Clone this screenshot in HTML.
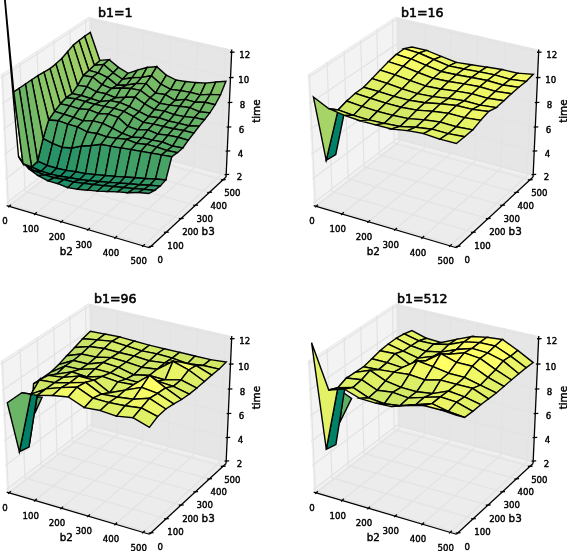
<!DOCTYPE html><html><head><meta charset="utf-8"><title>b1 surfaces</title>
<style>html,body{margin:0;padding:0;background:#fff}svg{display:block}text{font-family:"DejaVu Sans","Liberation Sans",sans-serif;fill:#000;stroke:#000;stroke-width:0.42px}.t{stroke-width:0.55px}.s polygon{stroke:#000;stroke-width:1.4;stroke-linejoin:miter;stroke-miterlimit:6}</style></head><body>
<svg width="567" height="551" viewBox="0 0 567 551">
<rect width="567" height="551" fill="#fff"/>
<g>
<polygon points="6.69,205.56 90.43,140.77 89.04,16.96 0.63,75.18" fill="#f3f3f3"/>
<polygon points="90.43,140.77 226.08,176.99 231.76,49.45 89.04,16.96" fill="#e6e6e6"/>
<polygon points="6.69,205.56 149.41,247.75 226.08,176.99 90.43,140.77" fill="#ececec"/>
<polyline points="90.43,140.77 226.08,176.99" stroke="#f4f4f4" stroke-width="1" fill="none"/>
<polyline points="0.63,75.18 89.04,16.96" stroke="#e9e9e9" stroke-width="1" fill="none"/>
<polyline points="9.16,206.29 92.79,141.4 91.51,17.53" stroke="#e3e3e3" stroke-width="1.25" fill="none"/>
<polyline points="150.91,246.36 8.32,204.3 2.36,74.04" stroke="#e3e3e3" stroke-width="1.25" fill="none"/>
<polyline points="35.04,213.94 117.44,147.98 117.41,23.42" stroke="#e3e3e3" stroke-width="1.25" fill="none"/>
<polyline points="166.2,232.25 24.98,191.41 20,62.42" stroke="#e3e3e3" stroke-width="1.25" fill="none"/>
<polyline points="61.35,221.72 142.49,154.67 143.74,29.42" stroke="#e3e3e3" stroke-width="1.25" fill="none"/>
<polyline points="181.05,218.55 41.17,178.88 37.12,51.15" stroke="#e3e3e3" stroke-width="1.25" fill="none"/>
<polyline points="88.12,229.63 167.94,161.47 170.51,35.51" stroke="#e3e3e3" stroke-width="1.25" fill="none"/>
<polyline points="195.45,205.25 56.91,166.7 53.73,40.21" stroke="#e3e3e3" stroke-width="1.25" fill="none"/>
<polyline points="115.36,237.68 193.79,168.37 197.73,41.71" stroke="#e3e3e3" stroke-width="1.25" fill="none"/>
<polyline points="209.45,192.34 72.22,154.86 69.87,29.58" stroke="#e3e3e3" stroke-width="1.25" fill="none"/>
<polyline points="143.07,245.87 220.07,175.39 225.42,48.01" stroke="#e3e3e3" stroke-width="1.25" fill="none"/>
<polyline points="223.05,179.78 87.11,143.33 85.55,19.26" stroke="#e3e3e3" stroke-width="1.25" fill="none"/>
<polyline points="6.57,203.08 90.4,138.41 226.19,174.56" stroke="#e3e3e3" stroke-width="1.25" fill="none"/>
<polyline points="5.46,179.05 90.15,115.52 227.24,151.03" stroke="#e3e3e3" stroke-width="1.25" fill="none"/>
<polyline points="4.32,154.54 89.88,92.21 228.3,127.03" stroke="#e3e3e3" stroke-width="1.25" fill="none"/>
<polyline points="3.15,129.52 89.62,68.45 229.39,102.56" stroke="#e3e3e3" stroke-width="1.25" fill="none"/>
<polyline points="1.97,103.99 89.34,44.24 230.5,77.6" stroke="#e3e3e3" stroke-width="1.25" fill="none"/>
<polyline points="0.75,77.92 89.06,19.56 231.64,52.13" stroke="#e3e3e3" stroke-width="1.25" fill="none"/>
<g class="s">
<polygon points="-0.67,-61.48 18.52,156.64 23.02,163.58 13.79,91.95" fill="#fbfbe8"/>
<polygon points="94.32,65.27 103.66,64.48 109.15,59.6 99.83,60.4" fill="#7dbe66"/>
<polygon points="84.67,36.23 94.32,65.27 99.83,60.4 90.28,32.45" fill="#a2d166"/>
<polygon points="103.66,64.48 113.09,72.82 118.54,67.34 109.15,59.6" fill="#7bbd66"/>
<polygon points="113.09,72.82 122.54,79.27 127.95,73.27 118.54,67.34" fill="#72b966"/>
<polygon points="88.76,70.31 98.14,72.93 103.66,64.48 94.32,65.27" fill="#7abc66"/>
<polygon points="79.01,40.52 88.76,70.31 94.32,65.27 84.67,36.23" fill="#a1d066"/>
<polygon points="122.54,79.27 132.06,77.7 137.47,70.07 127.95,73.27" fill="#73b966"/>
<polygon points="98.14,72.93 107.59,77.61 113.09,72.82 103.66,64.48" fill="#77bb66"/>
<polygon points="107.59,77.61 117.07,85.24 122.54,79.27 113.09,72.82" fill="#70b766"/>
<polygon points="83.14,75.63 92.54,77.03 98.14,72.93 88.76,70.31" fill="#77bb66"/>
<polygon points="117.07,85.24 126.61,85.08 132.06,77.7 122.54,79.27" fill="#6eb766"/>
<polygon points="92.54,77.03 102.05,84.71 107.59,77.61 98.14,72.93" fill="#74b966"/>
<polygon points="73.29,45.09 83.14,75.63 88.76,70.31 79.01,40.52" fill="#9fcf66"/>
<polygon points="132.06,77.7 141.65,77.42 147.07,67.46 137.47,70.07" fill="#7abd66"/>
<polygon points="102.05,84.71 111.56,88.55 117.07,85.24 107.59,77.61" fill="#6db666"/>
<polygon points="77.55,85.35 86.95,86.68 92.54,77.03 83.14,75.63" fill="#71b866"/>
<polygon points="126.61,85.08 136.22,83.45 141.65,77.42 132.06,77.7" fill="#74b966"/>
<polygon points="86.95,86.68 96.46,91.89 102.05,84.71 92.54,77.03" fill="#6fb766"/>
<polygon points="67.56,51.68 77.55,85.35 83.14,75.63 73.29,45.09" fill="#9bcd66"/>
<polygon points="111.56,88.55 121.12,88.04 126.61,85.08 117.07,85.24" fill="#6db666"/>
<polygon points="141.65,77.42 151.34,75.73 156.74,66.67 147.07,67.46" fill="#81c066"/>
<polygon points="71.89,93.59 81.32,95.51 86.95,86.68 77.55,85.35" fill="#69b466"/>
<polygon points="96.46,91.89 105.98,93.81 111.56,88.55 102.05,84.71" fill="#6bb566"/>
<polygon points="151.34,75.73 160.94,84.2 166.32,75.16 156.74,66.67" fill="#7ebf66"/>
<polygon points="81.32,95.51 90.82,98.54 96.46,91.89 86.95,86.68" fill="#68b366"/>
<polygon points="61.78,58.53 71.89,93.59 77.55,85.35 67.56,51.68" fill="#94ca66"/>
<polygon points="136.22,83.45 145.91,83.58 151.34,75.73 141.65,77.42" fill="#79bc66"/>
<polygon points="160.94,84.2 170.63,89.38 175.99,79.97 166.32,75.16" fill="#77bb66"/>
<polygon points="121.12,88.04 130.75,88.48 136.22,83.45 126.61,85.08" fill="#72b866"/>
<polygon points="105.98,93.81 115.57,97.77 121.12,88.04 111.56,88.55" fill="#6bb566"/>
<polygon points="66.1,97.68 75.55,98.77 81.32,95.51 71.89,93.59" fill="#65b266"/>
<polygon points="90.82,98.54 100.38,101.56 105.98,93.81 96.46,91.89" fill="#66b366"/>
<polygon points="145.91,83.58 155.53,93.07 160.94,84.2 151.34,75.73" fill="#76bb66"/>
<polygon points="170.63,89.38 180.45,90.64 185.8,81.47 175.99,79.97" fill="#75ba66"/>
<polygon points="155.53,93.07 165.31,94.62 170.63,89.38 160.94,84.2" fill="#70b766"/>
<polygon points="75.55,98.77 85.09,101.54 90.82,98.54 81.32,95.51" fill="#65b266"/>
<polygon points="55.92,63.84 66.1,97.68 71.89,93.59 61.78,58.53" fill="#91c866"/>
<polygon points="130.75,88.48 140.45,90.37 145.91,83.58 136.22,83.45" fill="#75ba66"/>
<polygon points="115.57,97.77 125.22,97.27 130.75,88.48 121.12,88.04" fill="#6db666"/>
<polygon points="100.38,101.56 109.97,100.63 115.57,97.77 105.98,93.81" fill="#67b366"/>
<polygon points="60.3,103.85 69.79,105.84 75.55,98.77 66.1,97.68" fill="#63b166"/>
<polygon points="180.45,90.64 190.33,92.4 195.68,82.47 185.8,81.47" fill="#77bb66"/>
<polygon points="140.45,90.37 150.14,97.8 155.53,93.07 145.91,83.58" fill="#71b866"/>
<polygon points="165.31,94.62 175.06,100.44 180.45,90.64 170.63,89.38" fill="#6eb766"/>
<polygon points="85.09,101.54 94.68,104.29 100.38,101.56 90.82,98.54" fill="#65b266"/>
<polygon points="150.14,97.8 159.89,103.33 165.31,94.62 155.53,93.07" fill="#6bb566"/>
<polygon points="125.22,97.27 134.95,97.14 140.45,90.37 130.75,88.48" fill="#71b866"/>
<polygon points="109.97,100.63 119.65,102.47 125.22,97.27 115.57,97.77" fill="#69b466"/>
<polygon points="69.79,105.84 79.35,108.85 85.09,101.54 75.55,98.77" fill="#64b166"/>
<polygon points="49.98,68.6 60.3,103.85 66.1,97.68 55.92,63.84" fill="#8fc766"/>
<polygon points="175.06,100.44 185.03,99.41 190.33,92.4 180.45,90.64" fill="#6fb766"/>
<polygon points="190.33,92.4 200.25,94.88 205.65,83.11 195.68,82.47" fill="#79bc66"/>
<polygon points="54.48,111.31 64.01,114.27 69.79,105.84 60.3,103.85" fill="#5eaf66"/>
<polygon points="94.68,104.29 104.32,106.33 109.97,100.63 100.38,101.56" fill="#66b266"/>
<polygon points="159.89,103.33 169.74,105.17 175.06,100.44 165.31,94.62" fill="#69b466"/>
<polygon points="134.95,97.14 144.68,103.84 150.14,97.8 140.45,90.37" fill="#6eb766"/>
<polygon points="79.35,108.85 88.94,109.59 94.68,104.29 85.09,101.54" fill="#64b266"/>
<polygon points="144.68,103.84 154.46,109.54 159.89,103.33 150.14,97.8" fill="#67b366"/>
<polygon points="119.65,102.47 129.39,106.51 134.95,97.14 125.22,97.27" fill="#6bb566"/>
<polygon points="64.01,114.27 73.59,117.26 79.35,108.85 69.79,105.84" fill="#5eae66"/>
<polygon points="185.03,99.41 194.97,102.07 200.25,94.88 190.33,92.4" fill="#71b866"/>
<polygon points="200.25,94.88 210.34,94.39 215.76,82 205.65,83.11" fill="#7cbe66"/>
<polygon points="37.63,161.23 47.15,165.5 52.64,143.45 43.07,138.49" fill="#2a9466"/>
<polygon points="169.74,105.17 179.68,106.25 185.03,99.41 175.06,100.44" fill="#6ab466"/>
<polygon points="43.95,72.09 54.48,111.31 60.3,103.85 49.98,68.6" fill="#8dc666"/>
<polygon points="104.32,106.33 114.03,108.37 119.65,102.47 109.97,100.63" fill="#68b366"/>
<polygon points="48.65,119.98 58.13,120.71 64.01,114.27 54.48,111.31" fill="#58ac66"/>
<polygon points="129.39,106.51 139.16,111.63 144.68,103.84 134.95,97.14" fill="#69b466"/>
<polygon points="154.46,109.54 164.35,111.18 169.74,105.17 159.89,103.33" fill="#65b266"/>
<polygon points="31.62,167.01 41.17,171.32 47.15,165.5 37.63,161.23" fill="#198c66"/>
<polygon points="88.94,109.59 98.63,113.53 104.32,106.33 94.68,104.29" fill="#64b266"/>
<polygon points="43.07,138.49 52.64,143.45 58.13,120.71 48.65,119.98" fill="#47a366"/>
<polygon points="73.59,117.26 83.23,120.91 88.94,109.59 79.35,108.85" fill="#5eae66"/>
<polygon points="47.15,165.5 56.68,168.23 62.23,147.19 52.64,143.45" fill="#289366"/>
<polygon points="194.97,102.07 205.05,102.3 210.34,94.39 200.25,94.88" fill="#73b966"/>
<polygon points="139.16,111.63 148.97,116.54 154.46,109.54 144.68,103.84" fill="#63b166"/>
<polygon points="114.03,108.37 123.8,111.34 129.39,106.51 119.65,102.47" fill="#68b366"/>
<polygon points="58.13,120.71 67.75,124.2 73.59,117.26 64.01,114.27" fill="#58ac66"/>
<polygon points="179.68,106.25 189.69,107.64 194.97,102.07 185.03,99.41" fill="#6cb666"/>
<polygon points="210.34,94.39 220.47,94.87 225.95,81.26 215.76,82" fill="#81c066"/>
<polygon points="41.17,171.32 50.73,174.09 56.68,168.23 47.15,165.5" fill="#188b66"/>
<polygon points="52.64,143.45 62.23,147.19 67.75,124.2 58.13,120.71" fill="#46a366"/>
<polygon points="164.35,111.18 174.26,114.63 179.68,106.25 169.74,105.17" fill="#66b366"/>
<polygon points="98.63,113.53 108.35,114.14 114.03,108.37 104.32,106.33" fill="#65b266"/>
<polygon points="37.84,75.61 48.65,119.98 54.48,111.31 43.95,72.09" fill="#8ac566"/>
<polygon points="123.8,111.34 133.61,116.59 139.16,111.63 129.39,106.51" fill="#64b266"/>
<polygon points="83.23,120.91 92.89,120.85 98.63,113.53 88.94,109.59" fill="#5eaf66"/>
<polygon points="148.97,116.54 158.89,117.77 164.35,111.18 154.46,109.54" fill="#62b066"/>
<polygon points="56.68,168.23 66.25,170.41 71.81,148.02 62.23,147.19" fill="#289366"/>
<polygon points="67.75,124.2 77.4,126.94 83.23,120.91 73.59,117.26" fill="#57ab66"/>
<polygon points="205.05,102.3 215.13,104.78 220.47,94.87 210.34,94.39" fill="#76ba66"/>
<polygon points="189.69,107.64 199.67,111.84 205.05,102.3 194.97,102.07" fill="#6db666"/>
<polygon points="50.73,174.09 60.33,176.29 66.25,170.41 56.68,168.23" fill="#188b66"/>
<polygon points="62.23,147.19 71.81,148.02 77.4,126.94 67.75,124.2" fill="#46a366"/>
<polygon points="133.61,116.59 143.45,122.38 148.97,116.54 139.16,111.63" fill="#60af66"/>
<polygon points="174.26,114.63 184.27,116.64 189.69,107.64 179.68,106.25" fill="#67b366"/>
<polygon points="108.35,114.14 118.15,117.46 123.8,111.34 114.03,108.37" fill="#65b266"/>
<polygon points="31.69,79.77 43.07,138.49 48.65,119.98 37.84,75.61" fill="#82c166"/>
<polygon points="23.02,163.58 34.93,171.22 41.17,171.32 31.62,167.01" fill="#1e8f66"/>
<polygon points="158.89,117.77 168.84,121.02 174.26,114.63 164.35,111.18" fill="#62b066"/>
<polygon points="92.89,120.85 102.64,123.35 108.35,114.14 98.63,113.53" fill="#60af66"/>
<polygon points="77.4,126.94 87.15,131.96 92.89,120.85 83.23,120.91" fill="#56ab66"/>
<polygon points="66.25,170.41 75.87,171.81 81.42,145.99 71.81,148.02" fill="#2c9566"/>
<polygon points="118.15,117.46 127.98,126.37 133.61,116.59 123.8,111.34" fill="#61b066"/>
<polygon points="34.93,171.22 44.56,174.85 50.73,174.09 41.17,171.32" fill="#1a8d66"/>
<polygon points="143.45,122.38 153.39,124.14 158.89,117.77 148.97,116.54" fill="#5eaf66"/>
<polygon points="199.67,111.84 209.82,112.87 215.13,104.78 205.05,102.3" fill="#6eb666"/>
<polygon points="25.47,84.01 37.63,161.23 43.07,138.49 31.69,79.77" fill="#74ba66"/>
<polygon points="60.33,176.29 69.97,177.73 75.87,171.81 66.25,170.41" fill="#1a8c66"/>
<polygon points="71.81,148.02 81.42,145.99 87.15,131.96 77.4,126.94" fill="#48a366"/>
<polygon points="184.27,116.64 194.37,117.6 199.67,111.84 189.69,107.64" fill="#68b366"/>
<polygon points="127.98,126.37 137.87,129.91 143.45,122.38 133.61,116.59" fill="#5bad66"/>
<polygon points="168.84,121.02 178.87,123.31 184.27,116.64 174.26,114.63" fill="#61b066"/>
<polygon points="102.64,123.35 112.46,128.07 118.15,117.46 108.35,114.14" fill="#5faf66"/>
<polygon points="87.15,131.96 96.9,133.48 102.64,123.35 92.89,120.85" fill="#57ab66"/>
<polygon points="44.56,174.85 54.23,177.74 60.33,176.29 50.73,174.09" fill="#1a8d66"/>
<polygon points="153.39,124.14 163.39,126.51 168.84,121.02 158.89,117.77" fill="#5faf66"/>
<polygon points="75.87,171.81 85.57,173.62 91.14,145.48 81.42,145.99" fill="#309766"/>
<polygon points="19.18,88.28 31.62,167.01 37.63,161.23 25.47,84.01" fill="#6cb566"/>
<polygon points="112.46,128.07 122.32,133.34 127.98,126.37 118.15,117.46" fill="#5aad66"/>
<polygon points="194.37,117.6 204.51,119.77 209.82,112.87 199.67,111.84" fill="#68b466"/>
<polygon points="69.97,177.73 79.7,179.56 85.57,173.62 75.87,171.81" fill="#1b8d66"/>
<polygon points="81.42,145.99 91.14,145.48 96.9,133.48 87.15,131.96" fill="#4aa566"/>
<polygon points="137.87,129.91 147.85,129.89 153.39,124.14 143.45,122.38" fill="#5bad66"/>
<polygon points="96.9,133.48 106.73,136.93 112.46,128.07 102.64,123.35" fill="#56ab66"/>
<polygon points="178.87,123.31 188.96,125.75 194.37,117.6 184.27,116.64" fill="#63b166"/>
<polygon points="122.32,133.34 132.23,137.22 137.87,129.91 127.98,126.37" fill="#55aa66"/>
<polygon points="54.23,177.74 63.93,179.61 69.97,177.73 60.33,176.29" fill="#1b8d66"/>
<polygon points="163.39,126.51 173.45,128.78 178.87,123.31 168.84,121.02" fill="#5faf66"/>
<polygon points="18.52,156.64 28.5,168.61 34.93,171.22 23.02,163.58" fill="#2c9666"/>
<polygon points="28.5,168.61 38.31,175.65 44.56,174.85 34.93,171.22" fill="#239166"/>
<polygon points="106.73,136.93 116.61,138.36 122.32,133.34 112.46,128.07" fill="#54aa66"/>
<polygon points="85.57,173.62 95.33,174.66 100.95,144.25 91.14,145.48" fill="#349966"/>
<polygon points="79.7,179.56 89.48,180.63 95.33,174.66 85.57,173.62" fill="#1e8e66"/>
<polygon points="147.85,129.89 157.85,134.09 163.39,126.51 153.39,124.14" fill="#5cad66"/>
<polygon points="91.14,145.48 100.95,144.25 106.73,136.93 96.9,133.48" fill="#4ea666"/>
<polygon points="188.96,125.75 199.18,126.1 204.51,119.77 194.37,117.6" fill="#64b266"/>
<polygon points="132.23,137.22 142.23,137.59 147.85,129.89 137.87,129.91" fill="#56ab66"/>
<polygon points="38.31,175.65 48.09,180.86 54.23,177.74 44.56,174.85" fill="#208f66"/>
<polygon points="173.45,128.78 183.59,130.46 188.96,125.75 178.87,123.31" fill="#5faf66"/>
<polygon points="63.93,179.61 73.7,182.01 79.7,179.56 69.97,177.73" fill="#1d8e66"/>
<polygon points="13.79,91.95 23.02,163.58 31.62,167.01 19.18,88.28" fill="#70b766"/>
<polygon points="116.61,138.36 126.57,139.39 132.23,137.22 122.32,133.34" fill="#54a966"/>
<polygon points="157.85,134.09 167.95,135.31 173.45,128.78 163.39,126.51" fill="#5cad66"/>
<polygon points="95.33,174.66 105.16,175.52 110.85,146.09 100.95,144.25" fill="#379b66"/>
<polygon points="89.48,180.63 99.34,181.51 105.16,175.52 95.33,174.66" fill="#219066"/>
<polygon points="100.95,144.25 110.85,146.09 116.61,138.36 106.73,136.93" fill="#50a766"/>
<polygon points="142.23,137.59 152.28,140.18 157.85,134.09 147.85,129.89" fill="#58ab66"/>
<polygon points="48.09,180.86 57.85,183.62 63.93,179.61 54.23,177.74" fill="#1f8f66"/>
<polygon points="183.59,130.46 193.78,133.13 199.18,126.1 188.96,125.75" fill="#61b066"/>
<polygon points="73.7,182.01 83.53,183.39 89.48,180.63 79.7,179.56" fill="#1e8f66"/>
<polygon points="126.57,139.39 136.59,143.23 142.23,137.59 132.23,137.22" fill="#54aa66"/>
<polygon points="167.95,135.31 178.12,137.27 183.59,130.46 173.45,128.78" fill="#5dae66"/>
<polygon points="105.16,175.52 115.07,176.37 120.83,147.91 110.85,146.09" fill="#3a9c66"/>
<polygon points="99.34,181.51 109.27,182.39 115.07,176.37 105.16,175.52" fill="#249166"/>
<polygon points="110.85,146.09 120.83,147.91 126.57,139.39 116.61,138.36" fill="#52a866"/>
<polygon points="152.28,140.18 162.41,141.99 167.95,135.31 157.85,134.09" fill="#58ac66"/>
<polygon points="57.85,183.62 67.7,187.65 73.7,182.01 63.93,179.61" fill="#1f8f66"/>
<polygon points="83.53,183.39 93.43,184.52 99.34,181.51 89.48,180.63" fill="#219066"/>
<polygon points="136.59,143.23 146.68,144.44 152.28,140.18 142.23,137.59" fill="#55aa66"/>
<polygon points="178.12,137.27 188.33,140.21 193.78,133.13 183.59,130.46" fill="#5eae66"/>
<polygon points="120.83,147.91 130.88,149.65 136.59,143.23 126.57,139.39" fill="#52a966"/>
<polygon points="162.41,141.99 172.55,146.09 178.12,137.27 167.95,135.31" fill="#59ac66"/>
<polygon points="115.07,176.37 125.06,177.03 130.88,149.65 120.83,147.91" fill="#3c9e66"/>
<polygon points="67.7,187.65 77.56,189.21 83.53,183.39 73.7,182.01" fill="#208f66"/>
<polygon points="109.27,182.39 119.29,183.08 125.06,177.03 115.07,176.37" fill="#279366"/>
<polygon points="146.68,144.44 156.83,147.03 162.41,141.99 152.28,140.18" fill="#56ab66"/>
<polygon points="93.43,184.52 103.41,185.66 109.27,182.39 99.34,181.51" fill="#249266"/>
<polygon points="172.55,146.09 182.81,147.99 188.33,140.21 178.12,137.27" fill="#59ac66"/>
<polygon points="130.88,149.65 141,151.37 146.68,144.44 136.59,143.23" fill="#53a966"/>
<polygon points="125.06,177.03 135.12,177.7 141,151.37 130.88,149.65" fill="#3f9f66"/>
<polygon points="77.56,189.21 87.48,190.17 93.43,184.52 83.53,183.39" fill="#229166"/>
<polygon points="119.29,183.08 129.38,183.77 135.12,177.7 125.06,177.03" fill="#2b9566"/>
<polygon points="156.83,147.03 167.03,150.55 172.55,146.09 162.41,141.99" fill="#56aa66"/>
<polygon points="103.41,185.66 113.46,186.55 119.29,183.08 109.27,182.39" fill="#289366"/>
<polygon points="141,151.37 151.19,153.13 156.83,147.03 146.68,144.44" fill="#55aa66"/>
<polygon points="135.12,177.7 145.27,178.57 151.19,153.13 141,151.37" fill="#41a066"/>
<polygon points="87.48,190.17 97.48,191.14 103.41,185.66 93.43,184.52" fill="#259266"/>
<polygon points="167.03,150.55 177.33,152.67 182.81,147.99 172.55,146.09" fill="#55aa66"/>
<polygon points="129.38,183.77 139.56,184.68 145.27,178.57 135.12,177.7" fill="#2e9766"/>
<polygon points="113.46,186.55 123.59,187.44 129.38,183.77 119.29,183.08" fill="#2b9566"/>
<polygon points="151.19,153.13 161.45,154.93 167.03,150.55 156.83,147.03" fill="#55aa66"/>
<polygon points="145.27,178.57 155.51,179.05 161.45,154.93 151.19,153.13" fill="#44a166"/>
<polygon points="97.48,191.14 107.56,191.49 113.46,186.55 103.41,185.66" fill="#299466"/>
<polygon points="139.56,184.68 149.82,185.18 155.51,179.05 145.27,178.57" fill="#329966"/>
<polygon points="161.45,154.93 171.79,156.77 177.33,152.67 167.03,150.55" fill="#56aa66"/>
<polygon points="123.59,187.44 133.8,188.61 139.56,184.68 129.38,183.77" fill="#2e9766"/>
<polygon points="155.51,179.05 165.82,179.93 171.79,156.77 161.45,154.93" fill="#47a366"/>
<polygon points="107.56,191.49 117.73,191.84 123.59,187.44 113.46,186.55" fill="#2c9666"/>
<polygon points="149.82,185.18 160.16,186.1 165.82,179.93 155.51,179.05" fill="#369a66"/>
<polygon points="133.8,188.61 144.1,189.25 149.82,185.18 139.56,184.68" fill="#329866"/>
<polygon points="117.73,191.84 127.98,192.82 133.8,188.61 123.59,187.44" fill="#309766"/>
<polygon points="144.1,189.25 154.48,190.43 160.16,186.1 149.82,185.18" fill="#359a66"/>
<polygon points="127.98,192.82 138.32,192.54 144.1,189.25 133.8,188.61" fill="#349966"/>
<polygon points="138.32,192.54 148.74,193.54 154.48,190.43 144.1,189.25" fill="#379b66"/>
</g>
<polyline points="6.69,205.56 149.41,247.75" stroke="#000" stroke-width="1.3" fill="none"/>
<polyline points="149.41,247.75 226.08,176.99" stroke="#000" stroke-width="1.3" fill="none"/>
<polyline points="226.08,176.99 231.76,49.45" stroke="#000" stroke-width="1.3" fill="none"/>
<polyline points="8.16,207.29 10.96,204.69" stroke="#000" stroke-width="1.3" fill="none"/>
<polyline points="148.71,246.56 153.51,246.16" stroke="#000" stroke-width="1.3" fill="none"/>
<polyline points="34.04,214.94 36.84,212.34" stroke="#000" stroke-width="1.3" fill="none"/>
<polyline points="164,232.45 168.8,232.05" stroke="#000" stroke-width="1.3" fill="none"/>
<polyline points="60.35,222.72 63.15,220.12" stroke="#000" stroke-width="1.3" fill="none"/>
<polyline points="178.85,218.75 183.65,218.35" stroke="#000" stroke-width="1.3" fill="none"/>
<polyline points="87.12,230.63 89.92,228.03" stroke="#000" stroke-width="1.3" fill="none"/>
<polyline points="193.25,205.45 198.05,205.05" stroke="#000" stroke-width="1.3" fill="none"/>
<polyline points="114.36,238.68 117.16,236.08" stroke="#000" stroke-width="1.3" fill="none"/>
<polyline points="207.25,192.54 212.05,192.14" stroke="#000" stroke-width="1.3" fill="none"/>
<polyline points="142.07,246.87 144.87,244.27" stroke="#000" stroke-width="1.3" fill="none"/>
<polyline points="220.85,179.98 225.65,179.58" stroke="#000" stroke-width="1.3" fill="none"/>
<polyline points="224.59,174.66 229.19,174.46" stroke="#000" stroke-width="1.3" fill="none"/>
<polyline points="225.64,151.13 230.24,150.93" stroke="#000" stroke-width="1.3" fill="none"/>
<polyline points="226.7,127.13 231.3,126.93" stroke="#000" stroke-width="1.3" fill="none"/>
<polyline points="227.79,102.66 232.39,102.46" stroke="#000" stroke-width="1.3" fill="none"/>
<polyline points="228.9,77.7 233.5,77.5" stroke="#000" stroke-width="1.3" fill="none"/>
<polyline points="230.04,52.23 234.64,52.03" stroke="#000" stroke-width="1.3" fill="none"/>
<text x="4.86" y="224.48" font-size="8.6" text-anchor="middle">0</text>
<text x="160.21" y="263" font-size="8.6" text-anchor="middle">0</text>
<text x="30.74" y="232.13" font-size="8.6" text-anchor="middle">100</text>
<text x="175.5" y="248.89" font-size="8.6" text-anchor="middle">100</text>
<text x="57.05" y="239.91" font-size="8.6" text-anchor="middle">200</text>
<text x="190.35" y="235.19" font-size="8.6" text-anchor="middle">200</text>
<text x="83.82" y="247.82" font-size="8.6" text-anchor="middle">300</text>
<text x="204.75" y="221.89" font-size="8.6" text-anchor="middle">300</text>
<text x="111.06" y="255.87" font-size="8.6" text-anchor="middle">400</text>
<text x="218.75" y="208.98" font-size="8.6" text-anchor="middle">400</text>
<text x="138.77" y="264.06" font-size="8.6" text-anchor="middle">500</text>
<text x="232.35" y="196.42" font-size="8.6" text-anchor="middle">500</text>
<text x="239.39" y="180.1" font-size="8.6" text-anchor="middle">2</text>
<text x="240.44" y="156.57" font-size="8.6" text-anchor="middle">4</text>
<text x="241.5" y="132.57" font-size="8.6" text-anchor="middle">6</text>
<text x="242.59" y="108.1" font-size="8.6" text-anchor="middle">8</text>
<text x="243.7" y="83.14" font-size="8.6" text-anchor="middle">10</text>
<text x="244.84" y="57.67" font-size="8.6" text-anchor="middle">12</text>
<text x="66.3" y="254.85" font-size="10.4" text-anchor="middle">b2</text>
<text x="208.2" y="235.35" font-size="10.4" text-anchor="middle">b3</text>
<text x="256.3" y="115.05" font-size="10.4" text-anchor="middle" transform="rotate(-90 256.3 111.1)">time</text>
<text x="115.2" y="16.6" font-size="12.6" text-anchor="middle" class="t">b1=1</text>
</g>
<g>
<polygon points="313.69,205.56 397.43,140.77 396.04,16.96 307.63,75.18" fill="#f3f3f3"/>
<polygon points="397.43,140.77 533.08,176.99 538.76,49.45 396.04,16.96" fill="#e6e6e6"/>
<polygon points="313.69,205.56 456.41,247.75 533.08,176.99 397.43,140.77" fill="#ececec"/>
<polyline points="397.43,140.77 533.08,176.99" stroke="#f4f4f4" stroke-width="1" fill="none"/>
<polyline points="307.63,75.18 396.04,16.96" stroke="#e9e9e9" stroke-width="1" fill="none"/>
<polyline points="316.16,206.29 399.79,141.4 398.51,17.53" stroke="#e3e3e3" stroke-width="1.25" fill="none"/>
<polyline points="457.91,246.36 315.32,204.3 309.36,74.04" stroke="#e3e3e3" stroke-width="1.25" fill="none"/>
<polyline points="342.04,213.94 424.44,147.98 424.41,23.42" stroke="#e3e3e3" stroke-width="1.25" fill="none"/>
<polyline points="473.2,232.25 331.98,191.41 327,62.42" stroke="#e3e3e3" stroke-width="1.25" fill="none"/>
<polyline points="368.35,221.72 449.49,154.67 450.74,29.42" stroke="#e3e3e3" stroke-width="1.25" fill="none"/>
<polyline points="488.05,218.55 348.17,178.88 344.12,51.15" stroke="#e3e3e3" stroke-width="1.25" fill="none"/>
<polyline points="395.12,229.63 474.94,161.47 477.51,35.51" stroke="#e3e3e3" stroke-width="1.25" fill="none"/>
<polyline points="502.45,205.25 363.91,166.7 360.73,40.21" stroke="#e3e3e3" stroke-width="1.25" fill="none"/>
<polyline points="422.36,237.68 500.79,168.37 504.73,41.71" stroke="#e3e3e3" stroke-width="1.25" fill="none"/>
<polyline points="516.45,192.34 379.22,154.86 376.87,29.58" stroke="#e3e3e3" stroke-width="1.25" fill="none"/>
<polyline points="450.07,245.87 527.07,175.39 532.42,48.01" stroke="#e3e3e3" stroke-width="1.25" fill="none"/>
<polyline points="530.05,179.78 394.11,143.33 392.55,19.26" stroke="#e3e3e3" stroke-width="1.25" fill="none"/>
<polyline points="313.57,203.08 397.4,138.41 533.19,174.56" stroke="#e3e3e3" stroke-width="1.25" fill="none"/>
<polyline points="312.46,179.05 397.15,115.52 534.24,151.03" stroke="#e3e3e3" stroke-width="1.25" fill="none"/>
<polyline points="311.32,154.54 396.88,92.21 535.3,127.03" stroke="#e3e3e3" stroke-width="1.25" fill="none"/>
<polyline points="310.15,129.52 396.62,68.45 536.39,102.56" stroke="#e3e3e3" stroke-width="1.25" fill="none"/>
<polyline points="308.97,103.99 396.34,44.24 537.5,77.6" stroke="#e3e3e3" stroke-width="1.25" fill="none"/>
<polyline points="307.75,77.92 396.06,19.56 538.64,52.13" stroke="#e3e3e3" stroke-width="1.25" fill="none"/>
<g class="s">
<polygon points="404.13,48.66 418.89,53 426.59,50.43 411.93,46.97" fill="#fafc66"/>
<polygon points="418.89,53 433.77,59.49 441.38,56.39 426.59,50.43" fill="#f5fa66"/>
<polygon points="433.77,59.49 448.76,65.91 456.27,62.41 441.38,56.39" fill="#ebf566"/>
<polygon points="396.24,54.38 411.07,58.96 418.89,53 404.13,48.66" fill="#ffff66"/>
<polygon points="411.07,58.96 426.03,65.34 433.77,59.49 418.89,53" fill="#f9fc66"/>
<polygon points="448.76,65.91 463.9,69 471.35,64.74 456.27,62.41" fill="#e8f466"/>
<polygon points="388.26,61.68 403.16,66.37 411.07,58.96 396.24,54.38" fill="#fbfd66"/>
<polygon points="426.03,65.34 441.1,71.51 448.76,65.91 433.77,59.49" fill="#eff766"/>
<polygon points="463.9,69 479.21,71.87 486.58,67.1 471.35,64.74" fill="#ecf566"/>
<polygon points="403.16,66.37 418.19,72.49 426.03,65.34 411.07,58.96" fill="#f5fa66"/>
<polygon points="441.1,71.51 456.33,74.71 463.9,69 448.76,65.91" fill="#ebf566"/>
<polygon points="380.19,70.09 395.14,74.83 403.16,66.37 388.26,61.68" fill="#f4f966"/>
<polygon points="479.21,71.87 494.66,74.9 501.97,69.48 486.58,67.1" fill="#eff766"/>
<polygon points="418.19,72.49 433.33,78.28 441.1,71.51 426.03,65.34" fill="#edf666"/>
<polygon points="456.33,74.71 471.71,77.44 479.21,71.87 463.9,69" fill="#eef666"/>
<polygon points="395.14,74.83 410.24,80.63 418.19,72.49 403.16,66.37" fill="#eef766"/>
<polygon points="433.33,78.28 448.62,81.46 456.33,74.71 441.1,71.51" fill="#eaf466"/>
<polygon points="494.66,74.9 510.23,79.34 517.48,73.15 501.97,69.48" fill="#f0f766"/>
<polygon points="372.01,78.6 387.03,83.37 395.14,74.83 380.19,70.09" fill="#eaf566"/>
<polygon points="410.24,80.63 425.45,85.96 433.33,78.28 418.19,72.49" fill="#e7f366"/>
<polygon points="471.71,77.44 487.25,80.46 494.66,74.9 479.21,71.87" fill="#f0f866"/>
<polygon points="387.03,83.37 402.18,88.81 410.24,80.63 395.14,74.83" fill="#e5f266"/>
<polygon points="448.62,81.46 464.08,83.91 471.71,77.44 456.33,74.71" fill="#ecf666"/>
<polygon points="510.23,79.34 526.04,81.42 533.24,74.32 517.48,73.15" fill="#f3f966"/>
<polygon points="425.45,85.96 440.81,89.06 448.62,81.46 433.33,78.28" fill="#e5f266"/>
<polygon points="363.73,87.23 378.8,91.63 387.03,83.37 372.01,78.6" fill="#e1f066"/>
<polygon points="487.25,80.46 502.9,85.03 510.23,79.34 494.66,74.9" fill="#f0f866"/>
<polygon points="402.18,88.81 417.46,93.66 425.45,85.96 410.24,80.63" fill="#e0f066"/>
<polygon points="464.08,83.91 479.7,86.77 487.25,80.46 471.71,77.44" fill="#f0f766"/>
<polygon points="326.21,160.33 338.1,109.95 346.72,101 335.76,154.48" fill="#008066"/>
<polygon points="378.8,91.63 394.01,96.33 402.18,88.81 387.03,83.37" fill="#deee66"/>
<polygon points="440.81,89.06 456.33,91.18 464.08,83.91 448.62,81.46" fill="#e9f466"/>
<polygon points="502.9,85.03 518.77,87.34 526.04,81.42 510.23,79.34" fill="#f2f866"/>
<polygon points="417.46,93.66 432.88,96.64 440.81,89.06 425.45,85.96" fill="#dfef66"/>
<polygon points="355.27,93.3 370.42,98.28 378.8,91.63 363.73,87.23" fill="#dcee66"/>
<polygon points="479.7,86.77 495.43,91.33 502.9,85.03 487.25,80.46" fill="#f0f766"/>
<polygon points="394.01,96.33 409.35,100.31 417.46,93.66 402.18,88.81" fill="#dbed66"/>
<polygon points="456.33,91.18 472.03,93.82 479.7,86.77 464.08,83.91" fill="#edf666"/>
<polygon points="370.42,98.28 385.71,103.17 394.01,96.33 378.8,91.63" fill="#d9ec66"/>
<polygon points="432.88,96.64 448.48,98.38 456.33,91.18 440.81,89.06" fill="#e4f166"/>
<polygon points="495.43,91.33 511.39,93.74 518.77,87.34 502.9,85.03" fill="#f1f866"/>
<polygon points="409.35,100.31 424.84,102.8 432.88,96.64 417.46,93.66" fill="#dced66"/>
<polygon points="346.72,101 361.95,106.43 370.42,98.28 355.27,93.3" fill="#d9ec66"/>
<polygon points="472.03,93.82 487.84,98.3 495.43,91.33 479.7,86.77" fill="#eef666"/>
<polygon points="385.71,103.17 401.12,107.21 409.35,100.31 394.01,96.33" fill="#d8eb66"/>
<polygon points="448.48,98.38 464.25,100.78 472.03,93.82 456.33,91.18" fill="#e9f466"/>
<polygon points="361.95,106.43 377.31,111.39 385.71,103.17 370.42,98.28" fill="#d5ea66"/>
<polygon points="424.84,102.8 440.52,103.77 448.48,98.38 432.88,96.64" fill="#e2f066"/>
<polygon points="313.4,96.98 328.96,108.73 338.1,109.95 326.21,160.33" fill="#a6d466"/>
<polygon points="487.84,98.3 503.88,100.76 511.39,93.74 495.43,91.33" fill="#eff766"/>
<polygon points="338.1,109.95 353.39,115.36 361.95,106.43 346.72,101" fill="#d1e866"/>
<polygon points="401.12,107.21 416.69,110.14 424.84,102.8 409.35,100.31" fill="#daec66"/>
<polygon points="464.25,100.78 480.15,105.15 487.84,98.3 472.03,93.82" fill="#ebf566"/>
<polygon points="377.31,111.39 392.79,115.37 401.12,107.21 385.71,103.17" fill="#d3e966"/>
<polygon points="353.39,115.36 368.8,119.91 377.31,111.39 361.95,106.43" fill="#cde666"/>
<polygon points="440.52,103.77 456.38,105.52 464.25,100.78 448.48,98.38" fill="#e9f466"/>
<polygon points="416.69,110.14 432.43,111.29 440.52,103.77 424.84,102.8" fill="#e1f066"/>
<polygon points="480.15,105.15 496.26,107.61 503.88,100.76 487.84,98.3" fill="#ecf666"/>
<polygon points="392.79,115.37 408.42,118.62 416.69,110.14 401.12,107.21" fill="#d5ea66"/>
<polygon points="328.96,108.73 344.42,115.35 353.39,115.36 338.1,109.95" fill="#d8eb66"/>
<polygon points="368.8,119.91 384.33,123.36 392.79,115.37 377.31,111.39" fill="#cce666"/>
<polygon points="456.38,105.52 472.39,109.38 480.15,105.15 464.25,100.78" fill="#ecf666"/>
<polygon points="432.43,111.29 448.35,113.36 456.38,105.52 440.52,103.77" fill="#e9f466"/>
<polygon points="344.42,115.35 359.96,120.74 368.8,119.91 353.39,115.36" fill="#d3e966"/>
<polygon points="408.42,118.62 424.21,119.83 432.43,111.29 416.69,110.14" fill="#dbed66"/>
<polygon points="384.33,123.36 400.03,126.44 408.42,118.62 392.79,115.37" fill="#cfe766"/>
<polygon points="472.39,109.38 488.6,111.45 496.26,107.61 480.15,105.15" fill="#eff766"/>
<polygon points="448.35,113.36 464.43,117.68 472.39,109.38 456.38,105.52" fill="#ecf666"/>
<polygon points="359.96,120.74 375.62,124.87 384.33,123.36 368.8,119.91" fill="#d2e866"/>
<polygon points="424.21,119.83 440.2,122.1 448.35,113.36 432.43,111.29" fill="#e3f166"/>
<polygon points="400.03,126.44 415.88,127.22 424.21,119.83 408.42,118.62" fill="#d5ea66"/>
<polygon points="464.43,117.68 480.7,120.33 488.6,111.45 472.39,109.38" fill="#eff766"/>
<polygon points="375.62,124.87 391.44,129.04 400.03,126.44 384.33,123.36" fill="#d3e966"/>
<polygon points="440.2,122.1 456.35,126.75 464.43,117.68 448.35,113.36" fill="#e5f266"/>
<polygon points="415.88,127.22 431.94,129.19 440.2,122.1 424.21,119.83" fill="#deee66"/>
<polygon points="391.44,129.04 407.4,130.63 415.88,127.22 400.03,126.44" fill="#d9ec66"/>
<polygon points="456.35,126.75 472.68,129.87 480.7,120.33 464.43,117.68" fill="#e7f366"/>
<polygon points="431.94,129.19 448.17,133.68 456.35,126.75 440.2,122.1" fill="#e0f066"/>
<polygon points="407.4,130.63 423.56,133.56 431.94,129.19 415.88,127.22" fill="#e1f066"/>
<polygon points="448.17,133.68 464.59,136.77 472.68,129.87 456.35,126.75" fill="#e2f066"/>
<polygon points="423.56,133.56 439.88,139.17 448.17,133.68 431.94,129.19" fill="#e3f166"/>
<polygon points="439.88,139.17 456.38,143.51 464.59,136.77 448.17,133.68" fill="#e2f166"/>
</g>
<polyline points="313.69,205.56 456.41,247.75" stroke="#000" stroke-width="1.3" fill="none"/>
<polyline points="456.41,247.75 533.08,176.99" stroke="#000" stroke-width="1.3" fill="none"/>
<polyline points="533.08,176.99 538.76,49.45" stroke="#000" stroke-width="1.3" fill="none"/>
<polyline points="315.16,207.29 317.96,204.69" stroke="#000" stroke-width="1.3" fill="none"/>
<polyline points="455.71,246.56 460.51,246.16" stroke="#000" stroke-width="1.3" fill="none"/>
<polyline points="341.04,214.94 343.84,212.34" stroke="#000" stroke-width="1.3" fill="none"/>
<polyline points="471,232.45 475.8,232.05" stroke="#000" stroke-width="1.3" fill="none"/>
<polyline points="367.35,222.72 370.15,220.12" stroke="#000" stroke-width="1.3" fill="none"/>
<polyline points="485.85,218.75 490.65,218.35" stroke="#000" stroke-width="1.3" fill="none"/>
<polyline points="394.12,230.63 396.92,228.03" stroke="#000" stroke-width="1.3" fill="none"/>
<polyline points="500.25,205.45 505.05,205.05" stroke="#000" stroke-width="1.3" fill="none"/>
<polyline points="421.36,238.68 424.16,236.08" stroke="#000" stroke-width="1.3" fill="none"/>
<polyline points="514.25,192.54 519.05,192.14" stroke="#000" stroke-width="1.3" fill="none"/>
<polyline points="449.07,246.87 451.87,244.27" stroke="#000" stroke-width="1.3" fill="none"/>
<polyline points="527.85,179.98 532.65,179.58" stroke="#000" stroke-width="1.3" fill="none"/>
<polyline points="531.59,174.66 536.19,174.46" stroke="#000" stroke-width="1.3" fill="none"/>
<polyline points="532.64,151.13 537.24,150.93" stroke="#000" stroke-width="1.3" fill="none"/>
<polyline points="533.7,127.13 538.3,126.93" stroke="#000" stroke-width="1.3" fill="none"/>
<polyline points="534.79,102.66 539.39,102.46" stroke="#000" stroke-width="1.3" fill="none"/>
<polyline points="535.9,77.7 540.5,77.5" stroke="#000" stroke-width="1.3" fill="none"/>
<polyline points="537.04,52.23 541.64,52.03" stroke="#000" stroke-width="1.3" fill="none"/>
<text x="311.86" y="224.48" font-size="8.6" text-anchor="middle">0</text>
<text x="467.21" y="263" font-size="8.6" text-anchor="middle">0</text>
<text x="337.74" y="232.13" font-size="8.6" text-anchor="middle">100</text>
<text x="482.5" y="248.89" font-size="8.6" text-anchor="middle">100</text>
<text x="364.05" y="239.91" font-size="8.6" text-anchor="middle">200</text>
<text x="497.35" y="235.19" font-size="8.6" text-anchor="middle">200</text>
<text x="390.82" y="247.82" font-size="8.6" text-anchor="middle">300</text>
<text x="511.75" y="221.89" font-size="8.6" text-anchor="middle">300</text>
<text x="418.06" y="255.87" font-size="8.6" text-anchor="middle">400</text>
<text x="525.75" y="208.98" font-size="8.6" text-anchor="middle">400</text>
<text x="445.77" y="264.06" font-size="8.6" text-anchor="middle">500</text>
<text x="539.35" y="196.42" font-size="8.6" text-anchor="middle">500</text>
<text x="546.39" y="180.1" font-size="8.6" text-anchor="middle">2</text>
<text x="547.44" y="156.57" font-size="8.6" text-anchor="middle">4</text>
<text x="548.5" y="132.57" font-size="8.6" text-anchor="middle">6</text>
<text x="549.59" y="108.1" font-size="8.6" text-anchor="middle">8</text>
<text x="550.7" y="83.14" font-size="8.6" text-anchor="middle">10</text>
<text x="551.84" y="57.67" font-size="8.6" text-anchor="middle">12</text>
<text x="373.3" y="254.85" font-size="10.4" text-anchor="middle">b2</text>
<text x="515.2" y="235.35" font-size="10.4" text-anchor="middle">b3</text>
<text x="563.3" y="115.05" font-size="10.4" text-anchor="middle" transform="rotate(-90 563.3 111.1)">time</text>
<text x="422.2" y="16.6" font-size="12.6" text-anchor="middle" class="t">b1=16</text>
</g>
<g>
<polygon points="6.69,492.06 90.43,427.27 89.04,303.46 0.63,361.68" fill="#f3f3f3"/>
<polygon points="90.43,427.27 226.08,463.49 231.76,335.95 89.04,303.46" fill="#e6e6e6"/>
<polygon points="6.69,492.06 149.41,534.25 226.08,463.49 90.43,427.27" fill="#ececec"/>
<polyline points="90.43,427.27 226.08,463.49" stroke="#f4f4f4" stroke-width="1" fill="none"/>
<polyline points="0.63,361.68 89.04,303.46" stroke="#e9e9e9" stroke-width="1" fill="none"/>
<polyline points="9.16,492.79 92.79,427.9 91.51,304.03" stroke="#e3e3e3" stroke-width="1.25" fill="none"/>
<polyline points="150.91,532.86 8.32,490.8 2.36,360.54" stroke="#e3e3e3" stroke-width="1.25" fill="none"/>
<polyline points="35.04,500.44 117.44,434.48 117.41,309.92" stroke="#e3e3e3" stroke-width="1.25" fill="none"/>
<polyline points="166.2,518.75 24.98,477.91 20,348.92" stroke="#e3e3e3" stroke-width="1.25" fill="none"/>
<polyline points="61.35,508.22 142.49,441.17 143.74,315.92" stroke="#e3e3e3" stroke-width="1.25" fill="none"/>
<polyline points="181.05,505.05 41.17,465.38 37.12,337.65" stroke="#e3e3e3" stroke-width="1.25" fill="none"/>
<polyline points="88.12,516.13 167.94,447.97 170.51,322.01" stroke="#e3e3e3" stroke-width="1.25" fill="none"/>
<polyline points="195.45,491.75 56.91,453.2 53.73,326.71" stroke="#e3e3e3" stroke-width="1.25" fill="none"/>
<polyline points="115.36,524.18 193.79,454.87 197.73,328.21" stroke="#e3e3e3" stroke-width="1.25" fill="none"/>
<polyline points="209.45,478.84 72.22,441.36 69.87,316.08" stroke="#e3e3e3" stroke-width="1.25" fill="none"/>
<polyline points="143.07,532.37 220.07,461.89 225.42,334.51" stroke="#e3e3e3" stroke-width="1.25" fill="none"/>
<polyline points="223.05,466.28 87.11,429.83 85.55,305.76" stroke="#e3e3e3" stroke-width="1.25" fill="none"/>
<polyline points="6.57,489.58 90.4,424.91 226.19,461.06" stroke="#e3e3e3" stroke-width="1.25" fill="none"/>
<polyline points="5.46,465.55 90.15,402.02 227.24,437.53" stroke="#e3e3e3" stroke-width="1.25" fill="none"/>
<polyline points="4.32,441.04 89.88,378.71 228.3,413.53" stroke="#e3e3e3" stroke-width="1.25" fill="none"/>
<polyline points="3.15,416.02 89.62,354.95 229.39,389.06" stroke="#e3e3e3" stroke-width="1.25" fill="none"/>
<polyline points="1.97,390.49 89.34,330.74 230.5,364.1" stroke="#e3e3e3" stroke-width="1.25" fill="none"/>
<polyline points="0.75,364.42 89.06,306.06 231.64,338.63" stroke="#e3e3e3" stroke-width="1.25" fill="none"/>
<g class="s">
<polygon points="37,396.7 42.1,397.4 34.8,413.4" fill="#4fa766"/>
<polygon points="82.61,338.78 97.17,339.92 104.93,334.08 90.42,331.26" fill="#d0e866"/>
<polygon points="97.17,339.92 111.9,341.35 119.59,336.93 104.93,334.08" fill="#d7eb66"/>
<polygon points="74.73,347.46 89.31,346.5 97.17,339.92 82.61,338.78" fill="#c8e466"/>
<polygon points="111.9,341.35 126.77,346.14 134.39,341.04 119.59,336.93" fill="#d8eb66"/>
<polygon points="89.31,346.5 104.09,348.55 111.9,341.35 97.17,339.92" fill="#d4ea66"/>
<polygon points="66.74,355.72 81.34,353.99 89.31,346.5 74.73,347.46" fill="#bede66"/>
<polygon points="126.77,346.14 141.77,350.88 149.32,345.19 134.39,341.04" fill="#d3e966"/>
<polygon points="104.09,348.55 119.03,352.55 126.77,346.14 111.9,341.35" fill="#d6eb66"/>
<polygon points="81.34,353.99 96.19,357.13 104.09,348.55 89.31,346.5" fill="#cce566"/>
<polygon points="141.77,350.88 156.93,353.88 164.39,348.75 149.32,345.19" fill="#d2e966"/>
<polygon points="58.66,364.63 73.26,360.54 81.34,353.99 66.74,355.72" fill="#b4da66"/>
<polygon points="119.03,352.55 134.12,356.03 141.77,350.88 126.77,346.14" fill="#d3e966"/>
<polygon points="156.93,353.88 172.21,358.08 179.61,352.35 164.39,348.75" fill="#d2e966"/>
<polygon points="96.19,357.13 111.18,357.62 119.03,352.55 104.09,348.55" fill="#d1e866"/>
<polygon points="73.26,360.54 88.17,363.95 96.19,357.13 81.34,353.99" fill="#c4e166"/>
<polygon points="134.12,356.03 149.33,360.83 156.93,353.88 141.77,350.88" fill="#d2e866"/>
<polygon points="50.45,372.33 65.03,366.12 73.26,360.54 58.66,364.63" fill="#add666"/>
<polygon points="172.21,358.08 187.6,363.57 194.97,355.98 179.61,352.35" fill="#d0e766"/>
<polygon points="111.18,357.62 126.34,362.03 134.12,356.03 119.03,352.55" fill="#d3e966"/>
<polygon points="149.33,360.83 164.73,362.93 172.21,358.08 156.93,353.88" fill="#d2e966"/>
<polygon points="88.17,363.95 103.21,362.48 111.18,357.62 96.19,357.13" fill="#cee766"/>
<polygon points="65.03,366.12 80.02,369.33 88.17,363.95 73.26,360.54" fill="#c2e166"/>
<polygon points="187.6,363.57 203.24,365.48 210.48,359.65 194.97,355.98" fill="#d0e766"/>
<polygon points="42.06,378.11 56.74,374.07 65.03,366.12 50.45,372.33" fill="#a9d466"/>
<polygon points="126.34,362.03 141.63,367.2 149.33,360.83 134.12,356.03" fill="#d0e766"/>
<polygon points="164.73,362.93 180.37,362.09 187.6,363.57 172.21,358.08" fill="#d7eb66"/>
<polygon points="103.21,362.48 118.45,367.42 126.34,362.03 111.18,357.62" fill="#d5ea66"/>
<polygon points="203.24,365.48 218.99,369.19 226.19,362.08 210.48,359.65" fill="#d3e966"/>
<polygon points="141.63,367.2 157.1,369.31 164.73,362.93 149.33,360.83" fill="#d1e866"/>
<polygon points="80.02,369.33 95.12,368.86 103.21,362.48 88.17,363.95" fill="#cee666"/>
<polygon points="56.74,374.07 71.68,371.88 80.02,369.33 65.03,366.12" fill="#c4e266"/>
<polygon points="118.45,367.42 133.81,374.77 141.63,367.2 126.34,362.03" fill="#cee666"/>
<polygon points="33.55,383.79 48.14,375.43 56.74,374.07 42.06,378.11" fill="#acd666"/>
<polygon points="180.37,362.09 196.08,365.63 203.24,365.48 187.6,363.57" fill="#dced66"/>
<polygon points="28.98,447.01 39.49,380 48.14,375.43 33.55,383.79" fill="#cfe766"/>
<polygon points="19.41,451.69 31.02,394.15 39.49,380 28.98,447.01" fill="#008066"/>
<polygon points="95.12,368.86 110.44,372.81 118.45,367.42 103.21,362.48" fill="#d7eb66"/>
<polygon points="157.1,369.31 172.96,361.27 180.37,362.09 164.73,362.93" fill="#e7f366"/>
<polygon points="133.81,374.77 149.36,375.48 157.1,369.31 141.63,367.2" fill="#cde666"/>
<polygon points="196.08,365.63 211.73,375.12 218.99,369.19 203.24,365.48" fill="#d8eb66"/>
<polygon points="71.68,371.88 86.93,376.98 95.12,368.86 80.02,369.33" fill="#cfe766"/>
<polygon points="110.44,372.81 125.89,379.15 133.81,374.77 118.45,367.42" fill="#cfe766"/>
<polygon points="48.14,375.43 63.26,377.38 71.68,371.88 56.74,374.07" fill="#cbe566"/>
<polygon points="172.96,361.27 188.65,370.01 196.08,365.63 180.37,362.09" fill="#f4f966"/>
<polygon points="86.93,376.98 102.28,376.44 110.44,372.81 95.12,368.86" fill="#d7eb66"/>
<polygon points="149.36,375.48 165.03,379.88 172.96,361.27 157.1,369.31" fill="#dfef66"/>
<polygon points="125.89,379.15 141.49,383.28 149.36,375.48 133.81,374.77" fill="#cbe566"/>
<polygon points="188.65,370.01 204.34,381.53 211.73,375.12 196.08,365.63" fill="#e0ef66"/>
<polygon points="63.26,377.38 78.49,376.17 86.93,376.98 71.68,371.88" fill="#d8ec66"/>
<polygon points="102.28,376.44 117.84,381.91 125.89,379.15 110.44,372.81" fill="#d7eb66"/>
<polygon points="39.49,380 54.69,382.62 63.26,377.38 48.14,375.43" fill="#d3e966"/>
<polygon points="7.26,402.77 21.86,392.64 31.02,394.15 19.41,451.69" fill="#6ab566"/>
<polygon points="165.03,379.88 180.97,379.9 188.65,370.01 172.96,361.27" fill="#eaf566"/>
<polygon points="141.49,383.28 157.34,381.06 165.03,379.88 149.36,375.48" fill="#d4ea66"/>
<polygon points="78.49,376.17 93.99,380.15 102.28,376.44 86.93,376.98" fill="#e1f066"/>
<polygon points="117.84,381.91 133.55,384.73 141.49,383.28 125.89,379.15" fill="#d4e966"/>
<polygon points="180.97,379.9 196.85,388.03 204.34,381.53 188.65,370.01" fill="#dcee66"/>
<polygon points="54.69,382.62 70.01,382.68 78.49,376.17 63.26,377.38" fill="#e1f066"/>
<polygon points="31.02,394.15 46.02,388.86 54.69,382.62 39.49,380" fill="#cde666"/>
<polygon points="157.34,381.06 173.26,386.41 180.97,379.9 165.03,379.88" fill="#ddee66"/>
<polygon points="93.99,380.15 109.67,392.72 117.84,381.91 102.28,376.44" fill="#dbed66"/>
<polygon points="133.55,384.73 149.59,375.42 157.34,381.06 141.49,383.28" fill="#eaf466"/>
<polygon points="173.26,386.41 189.26,394.11 196.85,388.03 180.97,379.9" fill="#d7eb66"/>
<polygon points="70.01,382.68 85.53,382.42 93.99,380.15 78.49,376.17" fill="#eff766"/>
<polygon points="109.67,392.72 125.45,390.08 133.55,384.73 117.84,381.91" fill="#d8ec66"/>
<polygon points="46.02,388.86 61.37,387.59 70.01,382.68 54.69,382.62" fill="#e3f166"/>
<polygon points="21.86,392.64 37.21,395.37 46.02,388.86 31.02,394.15" fill="#cce666"/>
<polygon points="85.53,382.42 101.34,394.14 109.67,392.72 93.99,380.15" fill="#e2f066"/>
<polygon points="149.59,375.42 165.54,387.92 173.26,386.41 157.34,381.06" fill="#f4fa66"/>
<polygon points="165.54,387.92 181.56,399.51 189.26,394.11 173.26,386.41" fill="#ddee66"/>
<polygon points="125.45,390.08 141.47,387.4 149.59,375.42 133.55,384.73" fill="#f6fb66"/>
<polygon points="101.34,394.14 117.21,397 125.45,390.08 109.67,392.72" fill="#d9ec66"/>
<polygon points="61.37,387.59 76.96,387.12 85.53,382.42 70.01,382.68" fill="#f6fb66"/>
<polygon points="37.21,395.37 52.65,395.51 61.37,387.59 46.02,388.86" fill="#e2f066"/>
<polygon points="76.96,387.12 92.88,398.16 101.34,394.14 85.53,382.42" fill="#f0f766"/>
<polygon points="141.47,387.4 157.6,393.32 165.54,387.92 149.59,375.42" fill="#ffff66"/>
<polygon points="117.21,397 133.26,399.3 141.47,387.4 125.45,390.08" fill="#eaf566"/>
<polygon points="52.65,395.51 68.33,396.97 76.96,387.12 61.37,387.59" fill="#f4f966"/>
<polygon points="157.6,393.32 173.77,403.95 181.56,399.51 165.54,387.92" fill="#e6f366"/>
<polygon points="92.88,398.16 108.84,402.59 117.21,397 101.34,394.14" fill="#e1f066"/>
<polygon points="68.33,396.97 84.33,407.68 92.88,398.16 76.96,387.12" fill="#edf666"/>
<polygon points="133.26,399.3 149.53,398.31 157.6,393.32 141.47,387.4" fill="#f7fb66"/>
<polygon points="108.84,402.59 124.97,405.75 133.26,399.3 117.21,397" fill="#e5f266"/>
<polygon points="84.33,407.68 100.35,410.55 108.84,402.59 92.88,398.16" fill="#dfef66"/>
<polygon points="149.53,398.31 165.82,409 173.77,403.95 157.6,393.32" fill="#ecf666"/>
<polygon points="124.97,405.75 141.29,407.95 149.53,398.31 133.26,399.3" fill="#eff766"/>
<polygon points="100.35,410.55 116.55,416.1 124.97,405.75 108.84,402.59" fill="#e0ef66"/>
<polygon points="141.29,407.95 157.7,416.52 165.82,409 149.53,398.31" fill="#ebf566"/>
<polygon points="116.55,416.1 132.93,417.72 141.29,407.95 124.97,405.75" fill="#e4f266"/>
<polygon points="132.93,417.72 149.41,427.35 157.7,416.52 141.29,407.95" fill="#dfef66"/>
</g>
<polyline points="6.69,492.06 149.41,534.25" stroke="#000" stroke-width="1.3" fill="none"/>
<polyline points="149.41,534.25 226.08,463.49" stroke="#000" stroke-width="1.3" fill="none"/>
<polyline points="226.08,463.49 231.76,335.95" stroke="#000" stroke-width="1.3" fill="none"/>
<polyline points="8.16,493.79 10.96,491.19" stroke="#000" stroke-width="1.3" fill="none"/>
<polyline points="148.71,533.06 153.51,532.66" stroke="#000" stroke-width="1.3" fill="none"/>
<polyline points="34.04,501.44 36.84,498.84" stroke="#000" stroke-width="1.3" fill="none"/>
<polyline points="164,518.95 168.8,518.55" stroke="#000" stroke-width="1.3" fill="none"/>
<polyline points="60.35,509.22 63.15,506.62" stroke="#000" stroke-width="1.3" fill="none"/>
<polyline points="178.85,505.25 183.65,504.85" stroke="#000" stroke-width="1.3" fill="none"/>
<polyline points="87.12,517.13 89.92,514.53" stroke="#000" stroke-width="1.3" fill="none"/>
<polyline points="193.25,491.95 198.05,491.55" stroke="#000" stroke-width="1.3" fill="none"/>
<polyline points="114.36,525.18 117.16,522.58" stroke="#000" stroke-width="1.3" fill="none"/>
<polyline points="207.25,479.04 212.05,478.64" stroke="#000" stroke-width="1.3" fill="none"/>
<polyline points="142.07,533.37 144.87,530.77" stroke="#000" stroke-width="1.3" fill="none"/>
<polyline points="220.85,466.48 225.65,466.08" stroke="#000" stroke-width="1.3" fill="none"/>
<polyline points="224.59,461.16 229.19,460.96" stroke="#000" stroke-width="1.3" fill="none"/>
<polyline points="225.64,437.63 230.24,437.43" stroke="#000" stroke-width="1.3" fill="none"/>
<polyline points="226.7,413.63 231.3,413.43" stroke="#000" stroke-width="1.3" fill="none"/>
<polyline points="227.79,389.16 232.39,388.96" stroke="#000" stroke-width="1.3" fill="none"/>
<polyline points="228.9,364.2 233.5,364" stroke="#000" stroke-width="1.3" fill="none"/>
<polyline points="230.04,338.73 234.64,338.53" stroke="#000" stroke-width="1.3" fill="none"/>
<text x="4.86" y="510.98" font-size="8.6" text-anchor="middle">0</text>
<text x="160.21" y="549.5" font-size="8.6" text-anchor="middle">0</text>
<text x="30.74" y="518.63" font-size="8.6" text-anchor="middle">100</text>
<text x="175.5" y="535.39" font-size="8.6" text-anchor="middle">100</text>
<text x="57.05" y="526.41" font-size="8.6" text-anchor="middle">200</text>
<text x="190.35" y="521.69" font-size="8.6" text-anchor="middle">200</text>
<text x="83.82" y="534.32" font-size="8.6" text-anchor="middle">300</text>
<text x="204.75" y="508.39" font-size="8.6" text-anchor="middle">300</text>
<text x="111.06" y="542.37" font-size="8.6" text-anchor="middle">400</text>
<text x="218.75" y="495.48" font-size="8.6" text-anchor="middle">400</text>
<text x="138.77" y="550.56" font-size="8.6" text-anchor="middle">500</text>
<text x="232.35" y="482.92" font-size="8.6" text-anchor="middle">500</text>
<text x="239.39" y="466.6" font-size="8.6" text-anchor="middle">2</text>
<text x="240.44" y="443.07" font-size="8.6" text-anchor="middle">4</text>
<text x="241.5" y="419.07" font-size="8.6" text-anchor="middle">6</text>
<text x="242.59" y="394.6" font-size="8.6" text-anchor="middle">8</text>
<text x="243.7" y="369.64" font-size="8.6" text-anchor="middle">10</text>
<text x="244.84" y="344.17" font-size="8.6" text-anchor="middle">12</text>
<text x="66.3" y="541.35" font-size="10.4" text-anchor="middle">b2</text>
<text x="208.2" y="521.85" font-size="10.4" text-anchor="middle">b3</text>
<text x="256.3" y="401.55" font-size="10.4" text-anchor="middle" transform="rotate(-90 256.3 397.6)">time</text>
<text x="115.2" y="303.1" font-size="12.6" text-anchor="middle" class="t">b1=96</text>
</g>
<g>
<polygon points="313.69,492.06 397.43,427.27 396.04,303.46 307.63,361.68" fill="#f3f3f3"/>
<polygon points="397.43,427.27 533.08,463.49 538.76,335.95 396.04,303.46" fill="#e6e6e6"/>
<polygon points="313.69,492.06 456.41,534.25 533.08,463.49 397.43,427.27" fill="#ececec"/>
<polyline points="397.43,427.27 533.08,463.49" stroke="#f4f4f4" stroke-width="1" fill="none"/>
<polyline points="307.63,361.68 396.04,303.46" stroke="#e9e9e9" stroke-width="1" fill="none"/>
<polyline points="316.16,492.79 399.79,427.9 398.51,304.03" stroke="#e3e3e3" stroke-width="1.25" fill="none"/>
<polyline points="457.91,532.86 315.32,490.8 309.36,360.54" stroke="#e3e3e3" stroke-width="1.25" fill="none"/>
<polyline points="342.04,500.44 424.44,434.48 424.41,309.92" stroke="#e3e3e3" stroke-width="1.25" fill="none"/>
<polyline points="473.2,518.75 331.98,477.91 327,348.92" stroke="#e3e3e3" stroke-width="1.25" fill="none"/>
<polyline points="368.35,508.22 449.49,441.17 450.74,315.92" stroke="#e3e3e3" stroke-width="1.25" fill="none"/>
<polyline points="488.05,505.05 348.17,465.38 344.12,337.65" stroke="#e3e3e3" stroke-width="1.25" fill="none"/>
<polyline points="395.12,516.13 474.94,447.97 477.51,322.01" stroke="#e3e3e3" stroke-width="1.25" fill="none"/>
<polyline points="502.45,491.75 363.91,453.2 360.73,326.71" stroke="#e3e3e3" stroke-width="1.25" fill="none"/>
<polyline points="422.36,524.18 500.79,454.87 504.73,328.21" stroke="#e3e3e3" stroke-width="1.25" fill="none"/>
<polyline points="516.45,478.84 379.22,441.36 376.87,316.08" stroke="#e3e3e3" stroke-width="1.25" fill="none"/>
<polyline points="450.07,532.37 527.07,461.89 532.42,334.51" stroke="#e3e3e3" stroke-width="1.25" fill="none"/>
<polyline points="530.05,466.28 394.11,429.83 392.55,305.76" stroke="#e3e3e3" stroke-width="1.25" fill="none"/>
<polyline points="313.57,489.58 397.4,424.91 533.19,461.06" stroke="#e3e3e3" stroke-width="1.25" fill="none"/>
<polyline points="312.46,465.55 397.15,402.02 534.24,437.53" stroke="#e3e3e3" stroke-width="1.25" fill="none"/>
<polyline points="311.32,441.04 396.88,378.71 535.3,413.53" stroke="#e3e3e3" stroke-width="1.25" fill="none"/>
<polyline points="310.15,416.02 396.62,354.95 536.39,389.06" stroke="#e3e3e3" stroke-width="1.25" fill="none"/>
<polyline points="308.97,390.49 396.34,330.74 537.5,364.1" stroke="#e3e3e3" stroke-width="1.25" fill="none"/>
<polyline points="307.75,364.42 396.06,306.06 538.64,338.63" stroke="#e3e3e3" stroke-width="1.25" fill="none"/>
<g class="s">
<polygon points="343.2,392.5 351.6,398.4 340,422" fill="#5fb066"/>
<polygon points="404.12,333.84 418.89,340.79 426.59,338.28 411.92,330.63" fill="#e2f166"/>
<polygon points="418.89,340.79 433.78,344.08 441.38,342.53 426.59,338.28" fill="#dbed66"/>
<polygon points="396.21,338.24 411.08,345.77 418.89,340.79 404.12,333.84" fill="#e8f366"/>
<polygon points="433.78,344.08 448.83,344.44 456.39,339.35 441.38,342.53" fill="#e3f166"/>
<polygon points="411.08,345.77 426.03,351.3 433.78,344.08 418.89,340.79" fill="#e0f066"/>
<polygon points="388.2,344.01 403.14,351.11 411.08,345.77 396.21,338.24" fill="#e9f466"/>
<polygon points="448.83,344.44 464.11,341.85 471.62,336.49 456.39,339.35" fill="#f6fb66"/>
<polygon points="426.03,351.3 441.14,352.1 448.83,344.44 433.78,344.08" fill="#e4f166"/>
<polygon points="403.14,351.11 418.18,358.16 426.03,351.3 411.08,345.77" fill="#deef66"/>
<polygon points="464.11,341.85 479.54,342.58 486.97,337.26 471.62,336.49" fill="#ffff66"/>
<polygon points="380.08,350.73 395.05,353.77 403.14,351.11 388.2,344.01" fill="#ebf566"/>
<polygon points="441.14,352.1 456.47,349.46 464.11,341.85 448.83,344.44" fill="#f3f966"/>
<polygon points="418.18,358.16 433.36,356.35 441.14,352.1 426.03,351.3" fill="#e1f066"/>
<polygon points="395.05,353.77 410.22,364.83 418.18,358.16 403.14,351.11" fill="#dfef66"/>
<polygon points="479.54,342.58 495.09,346.02 502.47,339.44 486.97,337.26" fill="#ffff66"/>
<polygon points="371.88,358.73 386.92,362.62 395.05,353.77 380.08,350.73" fill="#e8f366"/>
<polygon points="456.47,349.46 471.99,348.44 479.54,342.58 464.11,341.85" fill="#ffff66"/>
<polygon points="433.36,356.35 448.75,354.26 456.47,349.46 441.14,352.1" fill="#f2f866"/>
<polygon points="410.22,364.83 425.45,361.05 433.36,356.35 418.18,358.16" fill="#e1f066"/>
<polygon points="495.09,346.02 510.56,356.18 517.81,350.42 502.47,339.44" fill="#ffff66"/>
<polygon points="510.56,356.18 526.04,367.79 533.17,362.59 517.81,350.42" fill="#e8f466"/>
<polygon points="386.92,362.62 402.11,367.63 410.22,364.83 395.05,353.77" fill="#e1f066"/>
<polygon points="471.99,348.44 487.59,352.95 495.09,346.02 479.54,342.58" fill="#ffff66"/>
<polygon points="363.56,366.76 378.64,369.63 386.92,362.62 371.88,358.73" fill="#e1f066"/>
<polygon points="448.75,354.26 464.35,352.86 471.99,348.44 456.47,349.46" fill="#ffff66"/>
<polygon points="326.31,449.26 337.8,387.77 346.43,378.07 335.9,444.6" fill="#008066"/>
<polygon points="425.45,361.05 440.94,353.62 448.75,354.26 433.36,356.35" fill="#fafd66"/>
<polygon points="487.59,352.95 503.22,360.92 510.56,356.18 495.09,346.02" fill="#ffff66"/>
<polygon points="402.11,367.63 417.4,360.96 425.45,361.05 410.22,364.83" fill="#e9f466"/>
<polygon points="503.22,360.92 518.78,373.74 526.04,367.79 510.56,356.18" fill="#eaf466"/>
<polygon points="378.64,369.63 393.87,372.17 402.11,367.63 386.92,362.62" fill="#e1f066"/>
<polygon points="464.35,352.86 480.02,358.42 487.59,352.95 471.99,348.44" fill="#ffff66"/>
<polygon points="355.06,372.43 370.1,370.33 378.64,369.63 363.56,366.76" fill="#e2f166"/>
<polygon points="440.94,353.62 456.52,362.36 464.35,352.86 448.75,354.26" fill="#ffff66"/>
<polygon points="480.02,358.42 495.66,369.66 503.22,360.92 487.59,352.95" fill="#feff66"/>
<polygon points="417.4,360.96 432.93,366.69 440.94,353.62 425.45,361.05" fill="#ffff66"/>
<polygon points="393.87,372.17 409.27,374.47 417.4,360.96 402.11,367.63" fill="#ebf566"/>
<polygon points="495.66,369.66 511.4,379.95 518.78,373.74 503.22,360.92" fill="#e8f366"/>
<polygon points="370.1,370.33 385.57,380.81 393.87,372.17 378.64,369.63" fill="#e4f166"/>
<polygon points="456.52,362.36 472.29,366.24 480.02,358.42 464.35,352.86" fill="#ffff66"/>
<polygon points="346.43,378.07 361.62,379.68 370.1,370.33 355.06,372.43" fill="#e5f266"/>
<polygon points="432.93,366.69 448.59,373.2 456.52,362.36 440.94,353.62" fill="#ffff66"/>
<polygon points="409.27,374.47 424.84,379.93 432.93,366.69 417.4,360.96" fill="#f2f966"/>
<polygon points="472.29,366.24 488.03,377.35 495.66,369.66 480.02,358.42" fill="#f9fc66"/>
<polygon points="385.57,380.81 401.06,387.44 409.27,374.47 393.87,372.17" fill="#deef66"/>
<polygon points="488.03,377.35 503.9,386.47 511.4,379.95 495.66,369.66" fill="#e4f166"/>
<polygon points="448.59,373.2 464.4,377.43 472.29,366.24 456.52,362.36" fill="#fafd66"/>
<polygon points="361.62,379.68 377.16,390.24 385.57,380.81 370.1,370.33" fill="#e0f066"/>
<polygon points="424.84,379.93 440.58,380.07 448.59,373.2 432.93,366.69" fill="#f0f866"/>
<polygon points="401.06,387.44 416.67,391.78 424.84,379.93 409.27,374.47" fill="#dced66"/>
<polygon points="311.58,342.65 328.76,390.05 337.8,387.77 326.31,449.26" fill="#e3f166"/>
<polygon points="337.8,387.77 352.98,387.51 361.62,379.68 346.43,378.07" fill="#deee66"/>
<polygon points="377.16,390.24 392.66,392.3 401.06,387.44 385.57,380.81" fill="#d5ea66"/>
<polygon points="464.4,377.43 480.29,385.2 488.03,377.35 472.29,366.24" fill="#f1f866"/>
<polygon points="440.58,380.07 456.47,384.36 464.4,377.43 448.59,373.2" fill="#f1f866"/>
<polygon points="480.29,385.2 496.29,392.95 503.9,386.47 488.03,377.35" fill="#e0f066"/>
<polygon points="352.98,387.51 368.6,397.81 377.16,390.24 361.62,379.68" fill="#d9ec66"/>
<polygon points="416.67,391.78 432.44,393.57 440.58,380.07 424.84,379.93" fill="#dfef66"/>
<polygon points="392.66,392.3 408.37,397.95 416.67,391.78 401.06,387.44" fill="#d3e966"/>
<polygon points="368.6,397.81 384.23,403.74 392.66,392.3 377.16,390.24" fill="#cee766"/>
<polygon points="328.76,390.05 344,388.98 352.98,387.51 337.8,387.77" fill="#e1f066"/>
<polygon points="456.47,384.36 472.53,388.29 480.29,385.2 464.4,377.43" fill="#edf666"/>
<polygon points="432.44,393.57 448.43,391.03 456.47,384.36 440.58,380.07" fill="#e9f466"/>
<polygon points="408.37,397.95 424.21,397.4 432.44,393.57 416.67,391.78" fill="#d7eb66"/>
<polygon points="472.53,388.29 488.58,398.8 496.29,392.95 480.29,385.2" fill="#e2f066"/>
<polygon points="344,388.98 359.73,398.39 368.6,397.81 352.98,387.51" fill="#dfef66"/>
<polygon points="384.23,403.74 399.95,405.67 408.37,397.95 392.66,392.3" fill="#cfe766"/>
<polygon points="448.43,391.03 464.54,396.92 472.53,388.29 456.47,384.36" fill="#edf666"/>
<polygon points="359.73,398.39 375.46,403.14 384.23,403.74 368.6,397.81" fill="#d3e966"/>
<polygon points="424.21,397.4 440.27,396.89 448.43,391.03 432.44,393.57" fill="#e5f266"/>
<polygon points="399.95,405.67 415.85,404.58 424.21,397.4 408.37,397.95" fill="#d7eb66"/>
<polygon points="464.54,396.92 480.75,404.7 488.58,398.8 472.53,388.29" fill="#e3f166"/>
<polygon points="375.46,403.14 391.32,406.63 399.95,405.67 384.23,403.74" fill="#d3e966"/>
<polygon points="440.27,396.89 456.49,402.14 464.54,396.92 448.43,391.03" fill="#ecf566"/>
<polygon points="415.85,404.58 431.98,403.63 440.27,396.89 424.21,397.4" fill="#e7f366"/>
<polygon points="456.49,402.14 472.78,411.32 480.75,404.7 464.54,396.92" fill="#e2f166"/>
<polygon points="391.32,406.63 407.31,405.52 415.85,404.58 399.95,405.67" fill="#deef66"/>
<polygon points="431.98,403.63 448.26,411.4 456.49,402.14 440.27,396.89" fill="#ebf566"/>
<polygon points="407.31,405.52 423.55,405.47 431.98,403.63 415.85,404.58" fill="#eef666"/>
<polygon points="448.26,411.4 464.69,417.38 472.78,411.32 456.49,402.14" fill="#e2f066"/>
<polygon points="423.55,405.47 439.98,409.71 448.26,411.4 431.98,403.63" fill="#f3f966"/>
<polygon points="439.98,409.71 456.57,415.33 464.69,417.38 448.26,411.4" fill="#edf666"/>
</g>
<polyline points="313.69,492.06 456.41,534.25" stroke="#000" stroke-width="1.3" fill="none"/>
<polyline points="456.41,534.25 533.08,463.49" stroke="#000" stroke-width="1.3" fill="none"/>
<polyline points="533.08,463.49 538.76,335.95" stroke="#000" stroke-width="1.3" fill="none"/>
<polyline points="315.16,493.79 317.96,491.19" stroke="#000" stroke-width="1.3" fill="none"/>
<polyline points="455.71,533.06 460.51,532.66" stroke="#000" stroke-width="1.3" fill="none"/>
<polyline points="341.04,501.44 343.84,498.84" stroke="#000" stroke-width="1.3" fill="none"/>
<polyline points="471,518.95 475.8,518.55" stroke="#000" stroke-width="1.3" fill="none"/>
<polyline points="367.35,509.22 370.15,506.62" stroke="#000" stroke-width="1.3" fill="none"/>
<polyline points="485.85,505.25 490.65,504.85" stroke="#000" stroke-width="1.3" fill="none"/>
<polyline points="394.12,517.13 396.92,514.53" stroke="#000" stroke-width="1.3" fill="none"/>
<polyline points="500.25,491.95 505.05,491.55" stroke="#000" stroke-width="1.3" fill="none"/>
<polyline points="421.36,525.18 424.16,522.58" stroke="#000" stroke-width="1.3" fill="none"/>
<polyline points="514.25,479.04 519.05,478.64" stroke="#000" stroke-width="1.3" fill="none"/>
<polyline points="449.07,533.37 451.87,530.77" stroke="#000" stroke-width="1.3" fill="none"/>
<polyline points="527.85,466.48 532.65,466.08" stroke="#000" stroke-width="1.3" fill="none"/>
<polyline points="531.59,461.16 536.19,460.96" stroke="#000" stroke-width="1.3" fill="none"/>
<polyline points="532.64,437.63 537.24,437.43" stroke="#000" stroke-width="1.3" fill="none"/>
<polyline points="533.7,413.63 538.3,413.43" stroke="#000" stroke-width="1.3" fill="none"/>
<polyline points="534.79,389.16 539.39,388.96" stroke="#000" stroke-width="1.3" fill="none"/>
<polyline points="535.9,364.2 540.5,364" stroke="#000" stroke-width="1.3" fill="none"/>
<polyline points="537.04,338.73 541.64,338.53" stroke="#000" stroke-width="1.3" fill="none"/>
<text x="311.86" y="510.98" font-size="8.6" text-anchor="middle">0</text>
<text x="467.21" y="549.5" font-size="8.6" text-anchor="middle">0</text>
<text x="337.74" y="518.63" font-size="8.6" text-anchor="middle">100</text>
<text x="482.5" y="535.39" font-size="8.6" text-anchor="middle">100</text>
<text x="364.05" y="526.41" font-size="8.6" text-anchor="middle">200</text>
<text x="497.35" y="521.69" font-size="8.6" text-anchor="middle">200</text>
<text x="390.82" y="534.32" font-size="8.6" text-anchor="middle">300</text>
<text x="511.75" y="508.39" font-size="8.6" text-anchor="middle">300</text>
<text x="418.06" y="542.37" font-size="8.6" text-anchor="middle">400</text>
<text x="525.75" y="495.48" font-size="8.6" text-anchor="middle">400</text>
<text x="445.77" y="550.56" font-size="8.6" text-anchor="middle">500</text>
<text x="539.35" y="482.92" font-size="8.6" text-anchor="middle">500</text>
<text x="546.39" y="466.6" font-size="8.6" text-anchor="middle">2</text>
<text x="547.44" y="443.07" font-size="8.6" text-anchor="middle">4</text>
<text x="548.5" y="419.07" font-size="8.6" text-anchor="middle">6</text>
<text x="549.59" y="394.6" font-size="8.6" text-anchor="middle">8</text>
<text x="550.7" y="369.64" font-size="8.6" text-anchor="middle">10</text>
<text x="551.84" y="344.17" font-size="8.6" text-anchor="middle">12</text>
<text x="373.3" y="541.35" font-size="10.4" text-anchor="middle">b2</text>
<text x="515.2" y="521.85" font-size="10.4" text-anchor="middle">b3</text>
<text x="563.3" y="401.55" font-size="10.4" text-anchor="middle" transform="rotate(-90 563.3 397.6)">time</text>
<text x="422.2" y="303.1" font-size="12.6" text-anchor="middle" class="t">b1=512</text>
</g>
</svg></body></html>
